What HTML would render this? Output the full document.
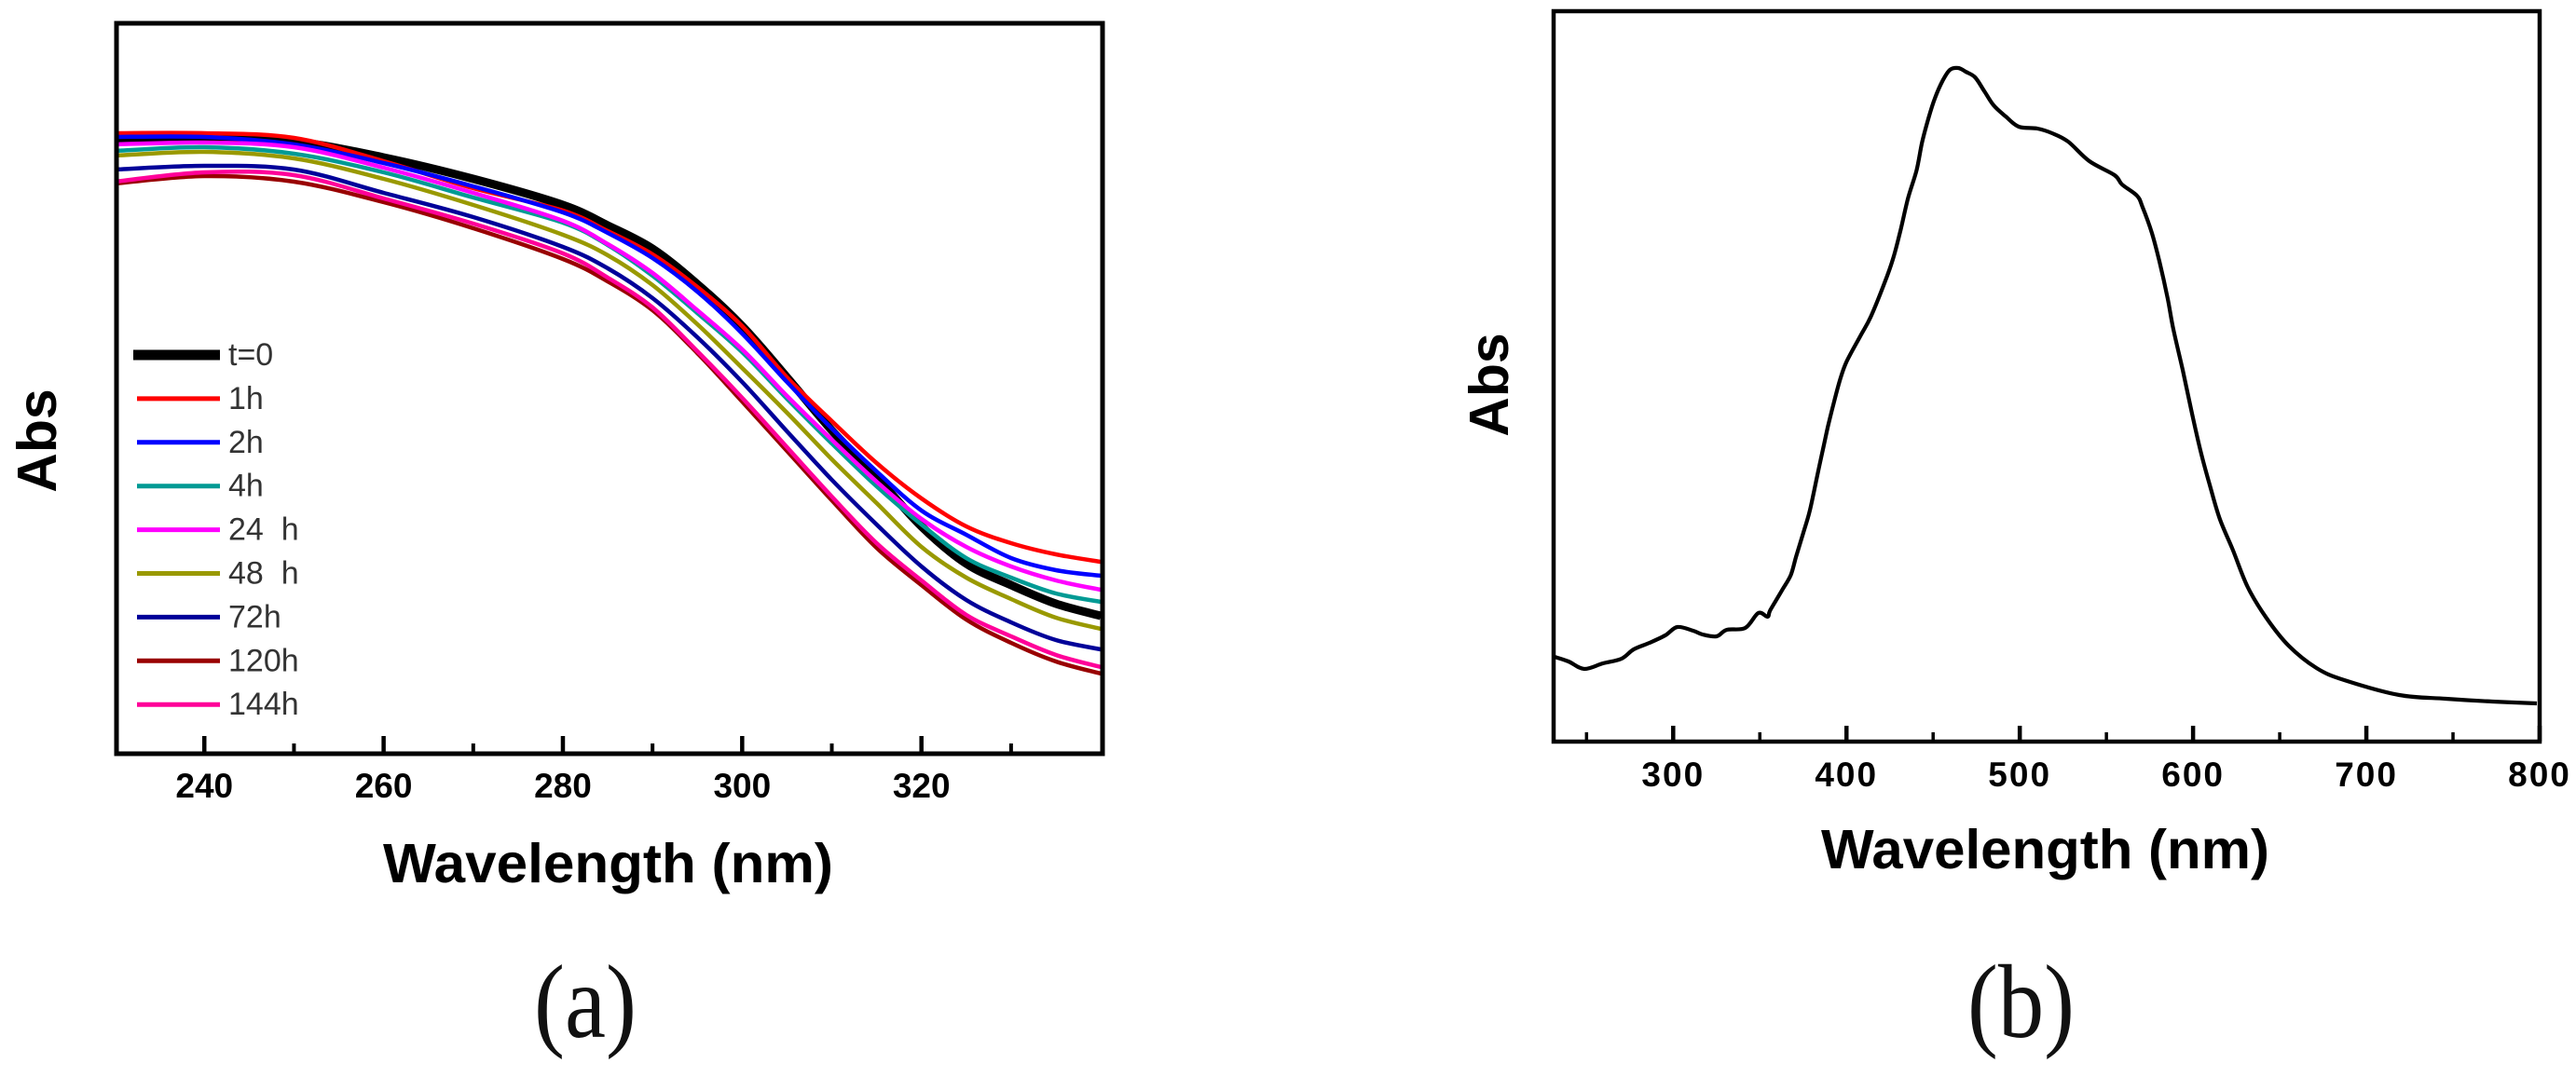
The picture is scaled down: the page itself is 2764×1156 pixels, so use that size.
<!DOCTYPE html>
<html lang="en">
<head>
<meta charset="utf-8">
<title>Absorbance spectra</title>
<style>
html,body{margin:0;padding:0;background:#fff;}
#figure{display:block;width:2764px;height:1156px;background:#fff;}
text{font-family:"Liberation Sans",sans-serif;fill:#000;}
.tick{font-weight:bold;font-size:37px;text-anchor:middle;}
.title{font-weight:bold;font-size:59px;}
.caption{font-family:"Liberation Serif",serif;font-size:112px;fill:#111;}
.legend{font-size:34px;fill:#333;white-space:pre;}
</style>
</head>
<body>
<svg id="figure" xmlns="http://www.w3.org/2000/svg" width="2764" height="1156" viewBox="0 0 2764 1156">
  <defs>
    <clipPath id="clip-a"><rect x="125" y="25" width="1058" height="784"/></clipPath>
    <clipPath id="clip-b"><rect x="1667" y="12" width="1058" height="784"/></clipPath>
  </defs>
  <g id="curves-a" clip-path="url(#clip-a)"></g>
  <g id="curves-b" clip-path="url(#clip-b)"></g>
  <g id="axes-a"></g>
  <g id="axes-b"></g>
  <g id="legend-a"></g>
  <rect x="125" y="25" width="1058" height="784" fill="none" stroke="#000" stroke-width="5"/>
  <rect x="1667" y="12" width="1058" height="784" fill="none" stroke="#000" stroke-width="4.5"/>
  <text class="title" x="411" y="947" textLength="483" lengthAdjust="spacingAndGlyphs">Wavelength (nm)</text>
  <text class="title" x="1954" y="932" textLength="481" lengthAdjust="spacingAndGlyphs">Wavelength (nm)</text>
  <text class="title" transform="translate(60,473) rotate(-90)" text-anchor="middle">Abs</text>
  <text class="title" transform="translate(1618,413) rotate(-90)" text-anchor="middle">Abs</text>
  <text class="caption" x="573" y="1113" textLength="110" lengthAdjust="spacingAndGlyphs">(a)</text>
  <text class="caption" x="2111" y="1113" textLength="115" lengthAdjust="spacingAndGlyphs">(b)</text>
</svg>
<script>
/* Panel (a): wavelength grid in nm, absorbance in arbitrary units (0-784 full scale) */
const wavelengthsA = [230,240,250,260,270,280,285,290,295,300,305,310,315,320,325,330,335,340];
const absT0   = [659,659,657,640,617,589,567,542,504,459,404,347,297,244,204,181,161,148];
const abs1h   = [666,666,661,636,607,583,561,536,501,459,404,357,312,274,244,226,214,206];
const abs2h   = [662,662,654,634,609,581,559,532,496,451,399,349,303,261,235,210,197,191];
const abs4h   = [647,651,644,624,597,570,546,513,473,431,381,333,287,246,210,189,172,163];
const abs24h  = [654,656,651,629,602,572,547,516,476,434,384,337,292,252,222,201,186,176];
const abs48h  = [642,646,639,617,589,557,535,503,461,414,366,316,269,222,189,166,146,134];
const abs72h  = [627,631,627,602,576,544,521,489,447,399,346,294,246,201,165,141,122,112];
const abs120h = [612,620,614,592,564,531,507,476,430,378,325,272,221,181,144,119,99,86];
const abs144h = [614,624,621,596,569,537,511,479,432,382,329,276,226,186,149,126,106,93];
const legendLabels = ['t=0','1h','2h','4h','24  h','48  h','72h','120h','144h'];
const seriesNames = ['t-0','1h','2h','4h','24h','48h','72h','120h','144h'];
const seriesValues = [absT0,abs1h,abs2h,abs4h,abs24h,abs48h,abs72h,abs120h,abs144h];
const seriesColors = ['#000000','#ff0000','#0000ff','#009a94','#ff00ff','#999900','#000099','#990000','#ff0099'];
const drawOrder = [0,1,2,3,4,5,6,7,8];
const majorTicksA = [240,260,280,300,320];
const minorTicksA = [250,270,290,310,330];

/* Panel (b): single spectrum */
const wavelengthsB = [231.5,239.6,248.7,259.5,270.2,277.2,286.3,295.4,302.4,311.5,316.9,325,330.9,341.6,349.1,354.5,356,363,367.9,371,374.9,378.6,381.3,384,386.7,389.4,392.6,396.4,400.1,408.2,414,422.1,427,431.2,435.5,440.4,443.6,447.3,451.1,455.4,459.7,464.5,468.8,474.2,479.6,484.9,491.9,499.4,510.2,518.7,527.9,540.2,554.7,559,567.6,570.8,576.2,580.5,585.3,588.6,594,599.3,604.7,610,615.4,622.9,631.5,642.2,655.1,671.2,687.3,719,745.8,772.7,798.4];
const absB = [91,86,78,84,89,99,106,114,123,119,115,113,120,122,138,134,141,163,179,199,223,246,269,293,316,339,363,389,408,436,456,493,519,549,583,613,643,669,691,709,721,723,719,713,698,683,671,660,658,653,644,623,608,598,586,574,546,516,476,443,399,353,309,273,239,206,166,133,103,79,66,50,46,43,41];
const majorTicksB = [300,400,500,600,700,800];
const minorTicksB = [250,350,450,550,650,750];

const NS = 'http://www.w3.org/2000/svg';
const xA = nm => 125 + (nm - 230.2) * 9.618;
const yA = v => 809 - v;
const xB = nm => 1667 + (nm - 231) * 1.8594;
const yB = v => 796 - v;

function make(tag, parent, props) {
  const node = document.createElementNS(NS, tag);
  Object.keys(props).forEach(k => node.setAttribute(k, props[k]));
  parent.appendChild(node);
  return node;
}
function smoothPath(pts) {
  let d = 'M' + pts[0][0].toFixed(1) + ' ' + pts[0][1].toFixed(1);
  for (let i = 0; i < pts.length - 1; i++) {
    const p0 = pts[Math.max(i - 1, 0)], p1 = pts[i], p2 = pts[i + 1], p3 = pts[Math.min(i + 2, pts.length - 1)];
    const c1x = p1[0] + (p2[0] - p0[0]) / 6, c1y = p1[1] + (p2[1] - p0[1]) / 6;
    const c2x = p2[0] - (p3[0] - p1[0]) / 6, c2y = p2[1] - (p3[1] - p1[1]) / 6;
    d += 'C' + c1x.toFixed(1) + ' ' + c1y.toFixed(1) + ' ' + c2x.toFixed(1) + ' ' + c2y.toFixed(1) + ' ' + p2[0].toFixed(1) + ' ' + p2[1].toFixed(1);
  }
  return d;
}

/* panel a curves */
const curvesA = document.getElementById('curves-a');
drawOrder.forEach(idx => {
  const pts = wavelengthsA.map((nm, i) => [xA(nm), yA(seriesValues[idx][i])]);
  const line = make('path', curvesA, {d: smoothPath(pts), fill: 'none', stroke: seriesColors[idx], 'stroke-width': idx === 0 ? 9 : 4.5, 'stroke-linejoin': 'round'});
  
  
});

/* panel b curve */
const curvesB = document.getElementById('curves-b');
const ptsB = wavelengthsB.map((nm, i) => [xB(nm), yB(absB[i])]);
const lineB = make('path', curvesB, {d: smoothPath(ptsB), fill: 'none', stroke: '#000', 'stroke-width': 4.2, 'stroke-linejoin': 'round'});



/* axes */
function drawTicks(group, ticks, xScale, axisY, len, width, kind) {
  ticks.forEach(nm => {
    const t = make('line', group, {x1: xScale(nm), x2: xScale(nm), y1: axisY, y2: axisY - len, stroke: '#000', 'stroke-width': width});
    
    
  });
}
function drawLabels(group, ticks, xScale, baseline, spacing) {
  ticks.forEach(nm => {
    const t = make('text', group, {x: xScale(nm), y: baseline, class: 'tick', 'letter-spacing': spacing});
    t.textContent = String(nm);
    
    
  });
}
const axesA = document.getElementById('axes-a');
drawTicks(axesA, majorTicksA, xA, 809, 19, 4.5, 'major');
drawTicks(axesA, minorTicksA, xA, 809, 11, 4, 'minor');
drawLabels(axesA, majorTicksA, xA, 856, 0);
const axesB = document.getElementById('axes-b');
drawTicks(axesB, majorTicksB, xB, 796, 17, 4.5, 'major');
drawTicks(axesB, minorTicksB, xB, 796, 10, 3.5, 'minor');
drawLabels(axesB, majorTicksB, xB, 844, 2);

/* legend */
const legendG = document.getElementById('legend-a');
const legendTop = 381, legendStep = 46.9;
legendLabels.forEach((label, i) => {
  const y = legendTop + i * legendStep;
  const swatch = make('line', legendG, {x1: i === 0 ? 143 : 147, x2: 236, y1: y, y2: y, stroke: seriesColors[i], 'stroke-width': i === 0 ? 11 : 5});
  
  
  const txt = make('text', legendG, {x: 245, y: y + 11, class: 'legend'});
  txt.textContent = label;
  
  
});
</script>
</body>
</html>
